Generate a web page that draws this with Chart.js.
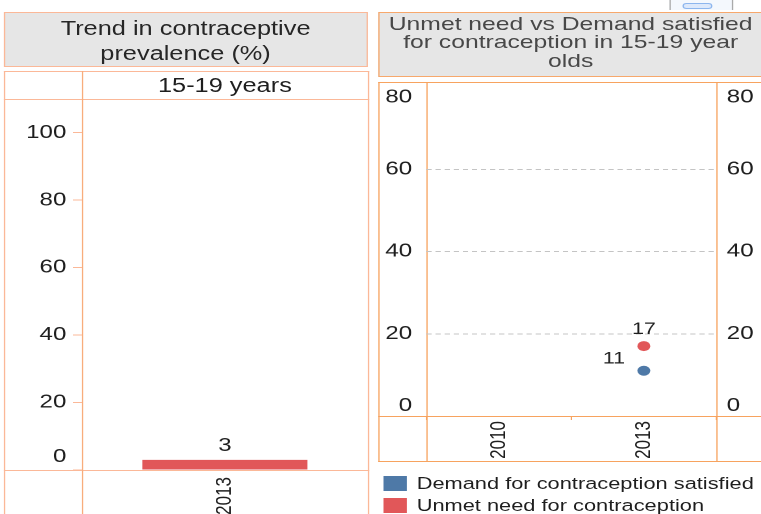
<!DOCTYPE html>
<html>
<head>
<meta charset="utf-8">
<script src="https://cdn.jsdelivr.net/npm/chart.js@4.4.1/dist/chart.umd.min.js"></script>
<style>
html, body { margin: 0; padding: 0; background: #fff; width: 761px; height: 514px; overflow: hidden; }
#page { position: absolute; left: 0; top: 0; width: 588px; height: 514px; transform: scaleX(1.3); transform-origin: 0 0; font-family: "Liberation Sans", Arial, sans-serif; }
.abs { position: absolute; box-sizing: border-box; }
.hl { position: absolute; height: 1px; }
.vl { position: absolute; width: 1px; }
.lc { background: #fbb898; }
.rc { background: #f7a35f; }
.txt { position: absolute; white-space: nowrap; }
canvas { position: absolute; z-index: 2; }
</style>
</head>
<body>
<div id="page">
  <!-- toolbar bit at the top -->
  <div class="abs" style="left:514.6px;top:-1px;width:49px;height:11px;border-left:1px solid #aaa;border-right:1px solid #aaa;background:#f4f8fd"></div>
  <div class="abs" style="left:525.4px;top:2.5px;width:22.3px;height:6px;border:1.5px solid #8db6ee;border-radius:4px;background:#dde9fb"></div>

  <!-- left panel -->
  <div class="abs" style="left:2.5px;top:12px;width:280.5px;height:55px;background:#e6e6e6;border:1.5px solid #fbb898"></div>
  <div class="txt" style="left:2.5px;top:15.7px;width:280.5px;text-align:center;font-size:19.5px;line-height:25px;color:#262626">Trend in contraceptive<br>prevalence (%)</div>
  <div class="hl lc" style="left:2.5px;top:71px;width:281px"></div>
  <div class="hl lc" style="left:2.5px;top:99px;width:281px"></div>
  <div class="hl lc" style="left:2.5px;top:470px;width:281px"></div>
  <div class="vl lc" style="left:2.5px;top:71px;height:443px"></div>
  <div class="vl lc" style="left:62.5px;top:71px;height:443px;background:#f8ad7c"></div>
  <div class="vl lc" style="left:282.5px;top:71px;height:443px"></div>
  <div class="txt" style="left:63px;top:74.9px;width:220px;text-align:center;font-size:19.5px;line-height:20px;color:#1e1e1e">15-19 years</div>

  <!-- right panel -->
  <div class="abs" style="left:290.8px;top:11.7px;width:297px;height:65.6px;background:#e6e6e6;border:1.5px solid #f7a86c"></div>
  <div class="txt" style="left:290.8px;top:14.7px;width:296.4px;text-align:center;font-size:19px;line-height:18.8px;color:#484848">Unmet need vs Demand satisfied<br>for contraception in 15-19 year<br>olds</div>
  <div class="hl rc" style="left:290.8px;top:81.5px;width:298px"></div>
  <div class="hl rc" style="left:290.8px;top:415.5px;width:298px"></div>
  <div class="hl rc" style="left:290.8px;top:460.5px;width:298px"></div>
  <div class="vl rc" style="left:290.8px;top:81.5px;height:380px"></div>
  <div class="vl rc" style="left:327.5px;top:81.5px;height:380px"></div>
  <div class="vl rc" style="left:550.5px;top:81.5px;height:380px"></div>

  <canvas id="prevChart" width="281" height="415" style="left:2px;top:99px"></canvas>
  <canvas id="needChart" width="295" height="379" style="left:291px;top:82px"></canvas>

  <div id="legend"></div>
</div>

<script>
"use strict"

// ---- data ----
const prevYears = ["2013"];
const prevValues = [3];
const prevTicks = [0, 20, 40, 60, 80, 100];

const needYears = ["2010", "2013"];
const demandSatisfied = [null, 11];
const unmetNeed = [null, 17];
const needTicks = [0, 20, 40, 60, 80];

const seriesNames = ["Demand for contraception satisfied", "Unmet need for contraception"];
const seriesColors = ["#4e79a7", "#e15759"];

const fontFamily = "'Liberation Sans', Arial, sans-serif";
const tickColor = "#1e1e1e";
const clear = "rgba(0,0,0,0)";

// draws the value next to each bar / point
const valueLabels = {
  id: "valueLabels",
  afterDatasetsDraw(chart, args, opts) {
    const ctx = chart.ctx;
    ctx.save();
    ctx.font = opts.font;
    ctx.fillStyle = opts.color;
    ctx.textBaseline = "alphabetic";
    chart.data.datasets.forEach((ds, i) => {
      const meta = chart.getDatasetMeta(i);
      const off = opts.offsets[i];
      meta.data.forEach((el, j) => {
        const v = ds.data[j];
        if (v == null) return;
        ctx.textAlign = off.align;
        ctx.fillText(v, el.x + off.dx, el.y + off.dy);
      });
    });
    ctx.restore();
  }
};

// ------------------ left: bar chart -------------------------
new Chart(document.querySelector("#prevChart"), {
  type: "bar",
  data: {
    labels: prevYears,
    datasets: [
      {
        label: "Contraceptive prevalence",
        data: prevValues,
        backgroundColor: seriesColors[1],
        categoryPercentage: 1,
        barPercentage: 0.577,
      },
    ],
  },
  options: {
    responsive: false,
    animation: false,
    devicePixelRatio: 2,
    layout: { padding: 0 },
    plugins: {
      legend: { display: false },
      tooltip: { enabled: false },
      valueLabels: {
        font: "18.5px " + fontFamily,
        color: tickColor,
        offsets: [{ dx: 0, dy: -9, align: "center" }],
      },
    },
    scales: {
      x: {
        grid: { display: false, drawTicks: false },
        border: { display: false },
        ticks: {
          minRotation: 90,
          maxRotation: 90,
          padding: 7,
          color: tickColor,
          font: { family: fontFamily, size: 17 },
        },
        afterFit: (s) => { s.height = 44; s.paddingLeft = 0; s.paddingRight = 0; },
      },
      y: {
        min: 0,
        max: 110,
        afterBuildTicks: (s) => { s.ticks = prevTicks.map((v) => ({ value: v })); },
        grid: { drawOnChartArea: false, tickLength: 7, color: "#fbb898" },
        border: { display: false },
        ticks: {
          padding: 5,
          color: tickColor,
          font: { family: fontFamily, size: 18.5, lineHeight: 1.4 },
          callback: (v) => (v === 0 ? ["0", ""] : String(v)),
        },
        afterFit: (s) => { s.width = 61; s.paddingTop = 0; s.paddingBottom = 0; },
      },
    },
  },
  plugins: [valueLabels],
});

// ------------------ right: dot chart -------------------------
new Chart(document.querySelector("#needChart"), {
  type: "line",
  data: {
    labels: needYears,
    datasets: [
      {
        label: seriesNames[0],
        data: demandSatisfied,
        showLine: false,
        pointRadius: 5,
        pointBackgroundColor: seriesColors[0],
        pointBorderWidth: 0,
        borderColor: seriesColors[0],
      },
      {
        label: seriesNames[1],
        data: unmetNeed,
        showLine: false,
        pointRadius: 5,
        pointBackgroundColor: seriesColors[1],
        pointBorderWidth: 0,
        borderColor: seriesColors[1],
      },
    ],
  },
  options: {
    responsive: false,
    animation: false,
    devicePixelRatio: 2,
    layout: { padding: 0 },
    plugins: {
      legend: { display: false },
      tooltip: { enabled: false },
      valueLabels: {
        font: "16.5px " + fontFamily,
        color: tickColor,
        offsets: [
          { dx: -14.4, dy: -7.4, align: "right" },
          { dx: 0, dy: -12, align: "center" },
        ],
      },
    },
    scales: {
      x: {
        offset: true,
        grid: { offset: true, drawOnChartArea: false, tickLength: 4, color: "#f7a35f" },
        border: { display: false },
        ticks: {
          minRotation: 90,
          maxRotation: 90,
          padding: 1,
          color: tickColor,
          font: { family: fontFamily, size: 17 },
        },
        afterFit: (s) => { s.height = 45; s.paddingLeft = 0; s.paddingRight = 0; },
      },
      y: {
        position: "left",
        min: 0,
        max: 80,
        afterBuildTicks: (s) => { s.ticks = needTicks.map((v) => ({ value: v })); },
        grid: {
          drawTicks: false,
          color: (c) => (c.tick && (c.tick.value === 0 || c.tick.value === 80) ? clear : "#c4c4c4"),
        },
        border: { display: false, dash: [4, 3] },
        ticks: {
          padding: 11,
          color: tickColor,
          font: { family: fontFamily, size: 18.6, lineHeight: 1.1 },
          callback: (v) => (v === 0 ? ["0", ""] : v === 80 ? ["", "80"] : String(v)),
        },
        afterFit: (s) => { s.width = 37; s.paddingTop = 0; s.paddingBottom = 0; },
      },
      y2: {
        position: "right",
        min: 0,
        max: 80,
        afterBuildTicks: (s) => { s.ticks = needTicks.map((v) => ({ value: v })); },
        grid: { display: false, drawTicks: false },
        border: { display: false },
        ticks: {
          padding: 8,
          color: tickColor,
          font: { family: fontFamily, size: 18.6, lineHeight: 1.1 },
          callback: (v) => (v === 0 ? ["0", ""] : v === 80 ? ["", "80"] : String(v)),
        },
        afterFit: (s) => { s.width = 35; s.paddingTop = 0; s.paddingBottom = 0; },
      },
    },
  },
  plugins: [valueLabels],
});

// legend below the dot chart
const legend = document.querySelector("#legend");
seriesNames.forEach((name, i) => {
  const top = 476 + i * 22.3;
  let sq = document.createElement("div");
  sq.className = "abs";
  sq.style.cssText = `left:294.8px;top:${top}px;width:18px;height:15px;background:${seriesColors[i]}`;
  legend.appendChild(sq);
  let tx = document.createElement("div");
  tx.className = "txt";
  tx.style.cssText = `left:320.5px;top:${top - 0.1}px;font-size:16.8px;line-height:15px;color:#1e1e1e`;
  tx.textContent = name;
  legend.appendChild(tx);
});
</script>
</body>
</html>
